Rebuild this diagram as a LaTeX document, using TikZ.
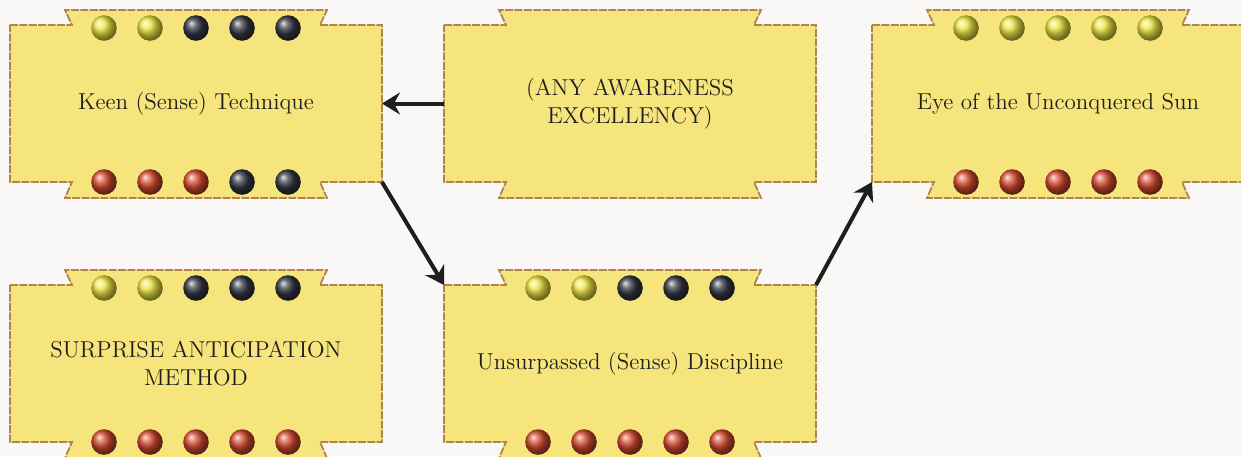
\documentclass[tikz,border=0pt]{standalone}
\usepackage{tikz}
\usetikzlibrary{arrows.meta,positioning,calc,backgrounds}
\definecolor{paper}{RGB}{250,248,246}
\definecolor{cardfill}{RGB}{246,229,124}
\definecolor{cardedge}{RGB}{176,132,74}
\definecolor{pipy}{RGB}{236,230,66}
\definecolor{pipd}{RGB}{52,56,66}
\definecolor{pipr}{RGB}{212,72,46}
\definecolor{ink}{RGB}{30,30,30}

% five pips along one edge of a card
\newcommand{\pips}[3]{%
  \foreach \c [count=\i] in {#3}
    \shade[ball color=\c] ($(#1)+({(\i-3)*23pt},#2)$) circle (6.4pt);}

\begin{document}
\begin{tikzpicture}[font=\fontsize{11.5}{14}\selectfont,node distance=51.5pt and 31pt,
   card/.style={minimum width=186pt,minimum height=78.5pt,inner sep=0pt,outer sep=0pt,
             align=center,text=ink},
   edge/.style={fill=cardfill,draw=cardedge,line width=0.9pt,dash pattern=on 4pt off 0.7pt},
   link/.style={-{Stealth[length=9pt,width=11pt,inset=3pt]},draw=ink,line width=2pt}]
  \useasboundingbox (-98pt,51.75pt) rectangle ++(620.5pt,-228pt);
  \node[card] (keen) {Keen (Sense) Technique};
  \node[card,right=of keen] (any) {(ANY AWARENESS\\EXCELLENCY)};
  \node[card,right=28pt of any] (eye) {Eye of the Unconquered Sun};
  \node[card,below=of keen] (surp) {SURPRISE ANTICIPATION\\METHOD};
  \node[card,below=of any] (unsurp) {Unsurpassed (Sense) Discipline};

  \begin{scope}[on background layer]
    \fill[paper] (-98pt,51.75pt) rectangle ++(620.5pt,-228pt);
    \foreach \n in {keen,any,eye,surp,unsurp}
      \path[edge] (\n.north west) -- ++(31pt,0) -- ++(-3.5pt,7.5pt) -- ++(131pt,0)
        -- ++(-3.5pt,-7.5pt) -- (\n.north east) -- (\n.south east) -- ++(-31pt,0)
        -- ++(3.5pt,-8pt) -- ++(-131pt,0) -- ++(3.5pt,8pt) -- (\n.south west) -- cycle;
  \end{scope}

  \draw[link] (any.west) -- (keen.east);
  \draw[link] (keen.south east) -- (unsurp.north west);
  \draw[link] (unsurp.north east) -- (eye.south west);

  \pips{keen.north}{-1.5pt}{pipy,pipy,pipd,pipd,pipd}
  \pips{keen.south}{0pt}{pipr,pipr,pipr,pipd,pipd}
  \pips{eye.north}{-1.5pt}{pipy,pipy,pipy,pipy,pipy}
  \pips{eye.south}{0pt}{pipr,pipr,pipr,pipr,pipr}
  \pips{surp.north}{-1.5pt}{pipy,pipy,pipd,pipd,pipd}
  \pips{surp.south}{0pt}{pipr,pipr,pipr,pipr,pipr}
  \pips{unsurp.north}{-1.5pt}{pipy,pipy,pipd,pipd,pipd}
  \pips{unsurp.south}{0pt}{pipr,pipr,pipr,pipr,pipr}
\end{tikzpicture}
\end{document}
